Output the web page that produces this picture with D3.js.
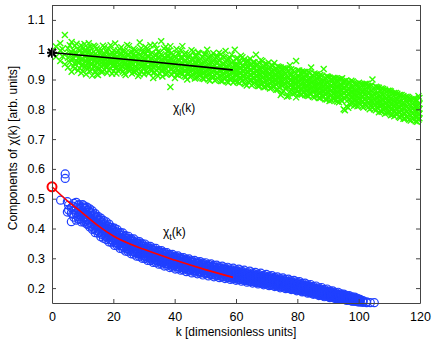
<!DOCTYPE html>
<html>
<head>
<meta charset="utf-8">
<script src="https://cdn.jsdelivr.net/npm/d3@7"></script>
<style>
  body { margin: 0; background: #fff; }
  svg { display: block; font-family: "Liberation Sans", Arial, Helvetica, sans-serif; }
</style>
</head>
<body>
<div id="chart"></div>
<script>
// longitudinal component: each row is [k, y, y, ...]
const chiL = [
  [1.3, 0.976, 1.011], [2.7, 0.962, 0.997, 1.022], [4.2, 1.049, 0.983, 0.951],
  [5.2, 0.94, 0.973, 1.005], [6.4, 0.926, 0.969, 1.026, 0.991], [7.4, 0.953, 0.986, 0.936, 1.012],
  [8.5, 0.93, 0.971, 1.002, 0.958], [9.5, 0.947, 0.989, 0.922, 1.015, 0.966],
  [10.6, 0.96, 0.978, 0.941, 1.019, 0.995], [11.6, 0.934, 0.969, 0.99, 0.955, 1.006],
  [12.5, 0.952, 0.983, 1.01, 0.928, 0.97], [13.6, 0.944, 0.962, 0.993, 0.975, 1.013],
  [14.6, 0.918, 0.958, 0.98, 1.004, 0.94], [15.5, 0.95, 0.972, 0.99, 0.935, 0.963],
  [16.6, 0.927, 0.961, 0.985, 1.013, 0.948], [17.6, 0.944, 0.968, 0.996, 0.955, 0.978],
  [18.5, 0.932, 0.957, 0.981, 1.002, 0.965], [19.6, 0.947, 0.97, 0.99, 0.919, 0.958],
  [20.6, 0.938, 0.962, 0.985, 1.021, 0.951], [21.5, 0.929, 0.955, 0.973, 0.997, 0.966],
  [22.6, 0.945, 0.967, 0.988, 0.936, 1.008], [23.6, 0.921, 0.953, 0.976, 0.961, 0.994],
  [24.5, 0.94, 0.963, 0.982, 1.016, 0.949], [25.6, 0.933, 0.958, 0.971, 0.99, 0.945],
  [26.6, 0.926, 0.951, 0.967, 0.985, 1.003], [27.5, 0.943, 0.962, 0.978, 0.93, 0.995],
  [28.6, 0.918, 0.949, 0.966, 0.983, 1.024], [29.6, 0.937, 0.957, 0.974, 0.992, 0.945],
  [30.5, 0.928, 0.95, 0.968, 0.986, 1.009], [31.6, 0.942, 0.96, 0.977, 0.921, 0.998],
  [32.6, 0.931, 0.953, 0.97, 0.99, 0.947], [33.5, 0.924, 0.946, 0.962, 0.981, 1.017],
  [34.6, 0.938, 0.958, 0.975, 0.993, 0.912], [35.6, 0.929, 0.951, 0.966, 0.985, 1.028],
  [36.5, 0.943, 0.96, 0.973, 0.934, 1.004], [37.6, 0.92, 0.948, 0.964, 0.98, 0.995],
  [38.6, 0.935, 0.955, 0.97, 0.875, 1.012], [39.5, 0.927, 0.945, 0.962, 0.983, 0.952],
  [40.6, 0.916, 0.938, 0.955, 0.973, 1.002], [41.6, 0.928, 0.946, 0.962, 0.985, 0.922],
  [42.5, 0.918, 0.937, 0.953, 0.972, 1.012], [43.6, 0.908, 0.93, 0.947, 0.964, 0.99],
  [44.6, 0.922, 0.94, 0.956, 0.975, 0.935], [45.5, 0.912, 0.931, 0.948, 0.966, 0.998],
  [46.6, 0.925, 0.943, 0.958, 0.903, 0.98], [47.6, 0.908, 0.928, 0.943, 0.961, 0.99],
  [48.5, 0.917, 0.936, 0.952, 0.97, 0.926], [49.6, 0.902, 0.922, 0.94, 0.958, 0.985],
  [50.6, 0.914, 0.932, 0.948, 0.966, 1.0], [51.5, 0.896, 0.92, 0.938, 0.955, 0.978],
  [52.6, 0.908, 0.928, 0.943, 0.961, 0.988], [53.6, 0.9, 0.921, 0.938, 0.956, 0.974],
  [54.5, 0.912, 0.93, 0.946, 0.964, 0.99], [55.6, 0.895, 0.917, 0.934, 0.952, 0.977],
  [56.6, 0.905, 0.924, 0.94, 0.958, 0.996], [57.5, 0.89, 0.914, 0.931, 0.948, 0.97],
  [58.6, 0.902, 0.921, 0.937, 0.955, 0.983], [59.6, 0.896, 0.916, 0.933, 0.95, 1.0],
  [60.5, 0.892, 0.915, 0.932, 0.95, 0.972], [61.6, 0.905, 0.922, 0.938, 0.955, 0.98],
  [62.6, 0.888, 0.91, 0.927, 0.944, 0.966], [63.5, 0.88, 0.906, 0.925, 0.943, 0.962],
  [64.6, 0.898, 0.915, 0.931, 0.948, 0.97], [65.6, 0.885, 0.905, 0.922, 0.94, 0.958],
  [66.5, 0.893, 0.912, 0.928, 0.946, 0.983], [67.6, 0.878, 0.9, 0.917, 0.934, 0.955],
  [68.6, 0.886, 0.905, 0.921, 0.938, 0.962], [69.5, 0.875, 0.896, 0.914, 0.932, 0.952],
  [70.6, 0.88, 0.9, 0.917, 0.934, 0.957], [71.6, 0.872, 0.893, 0.91, 0.928, 0.948],
  [72.5, 0.877, 0.897, 0.913, 0.93, 0.955], [73.6, 0.866, 0.888, 0.905, 0.923, 0.944],
  [74.6, 0.848, 0.884, 0.902, 0.92, 0.94], [75.5, 0.862, 0.882, 0.9, 0.917, 0.938],
  [76.6, 0.843, 0.878, 0.896, 0.913, 0.935], [77.6, 0.86, 0.88, 0.897, 0.915, 0.948],
  [78.5, 0.852, 0.874, 0.892, 0.909, 0.93], [79.6, 0.84, 0.87, 0.888, 0.906, 0.962],
  [80.6, 0.855, 0.875, 0.892, 0.91, 0.93], [81.5, 0.85, 0.87, 0.888, 0.906, 0.927],
  [82.6, 0.848, 0.868, 0.886, 0.903, 0.925], [83.6, 0.845, 0.866, 0.884, 0.902, 0.924],
  [84.5, 0.852, 0.87, 0.887, 0.903, 0.94], [85.6, 0.84, 0.862, 0.88, 0.898, 0.92],
  [86.6, 0.845, 0.865, 0.882, 0.9, 0.918], [87.5, 0.838, 0.858, 0.876, 0.894, 0.915],
  [88.6, 0.842, 0.86, 0.877, 0.895, 0.935], [89.6, 0.833, 0.853, 0.871, 0.889, 0.91],
  [90.5, 0.828, 0.85, 0.868, 0.886, 0.907], [91.6, 0.835, 0.852, 0.869, 0.886, 0.905],
  [92.5, 0.83, 0.849, 0.866, 0.883, 0.903], [93.6, 0.824, 0.845, 0.862, 0.879, 0.9],
  [94.6, 0.828, 0.846, 0.863, 0.88, 0.904], [95.5, 0.797, 0.835, 0.855, 0.873, 0.894],
  [96.6, 0.805, 0.832, 0.852, 0.869, 0.89], [97.6, 0.82, 0.838, 0.855, 0.872, 0.896],
  [98.5, 0.812, 0.832, 0.85, 0.868, 0.888], [99.6, 0.81, 0.83, 0.848, 0.866, 0.886],
  [100.6, 0.814, 0.832, 0.849, 0.866, 0.885], [101.5, 0.806, 0.826, 0.844, 0.862, 0.883],
  [102.6, 0.81, 0.828, 0.845, 0.862, 0.886], [103.6, 0.8, 0.82, 0.838, 0.856, 0.878],
  [104.5, 0.805, 0.823, 0.84, 0.857, 0.9], [105.6, 0.797, 0.816, 0.834, 0.852, 0.876],
  [106.6, 0.79, 0.812, 0.83, 0.848, 0.872], [107.5, 0.792, 0.813, 0.831, 0.849, 0.87],
  [108.6, 0.785, 0.806, 0.824, 0.842, 0.866], [109.6, 0.79, 0.808, 0.825, 0.842, 0.862],
  [110.5, 0.78, 0.8, 0.818, 0.836, 0.86], [111.6, 0.777, 0.797, 0.815, 0.833, 0.855],
  [112.6, 0.783, 0.8, 0.816, 0.833, 0.852], [113.5, 0.772, 0.79, 0.808, 0.826, 0.848],
  [114.6, 0.768, 0.787, 0.805, 0.823, 0.845], [115.6, 0.775, 0.792, 0.808, 0.824, 0.842],
  [116.5, 0.765, 0.783, 0.8, 0.817, 0.838], [117.6, 0.768, 0.785, 0.801, 0.817, 0.835],
  [118.6, 0.76, 0.778, 0.795, 0.812, 0.832], [119.5, 0.765, 0.782, 0.798, 0.813, 0.845]
];

// more of the same cloud, read between the rows above
const chiL2 = [
  [3.4, 0.978, 1.002], [5.8, 0.958, 0.99, 1.015], [7.0, 0.97, 0.944, 0.998], [8.0, 0.962, 0.985, 1.02],
  [9.0, 0.938, 0.975, 0.958, 0.999], [10.1, 0.95, 0.968, 0.987, 0.928, 1.004],
  [11.1, 0.945, 0.962, 0.98, 0.999, 0.918], [12.0, 0.94, 0.96, 0.977, 0.995, 1.022],
  [13.1, 0.934, 0.953, 0.971, 0.987, 0.913], [14.1, 0.948, 0.966, 0.986, 0.927, 1.01],
  [15.0, 0.936, 0.955, 0.977, 0.995, 0.915], [16.1, 0.944, 0.966, 0.974, 0.998, 0.925],
  [17.1, 0.933, 0.95, 0.962, 0.986, 1.008], [18.0, 0.942, 0.96, 0.975, 0.991, 0.922],
  [19.1, 0.937, 0.954, 0.968, 0.984, 1.015], [20.1, 0.928, 0.946, 0.965, 0.979, 0.997],
  [21.0, 0.94, 0.958, 0.976, 0.992, 0.92], [22.1, 0.933, 0.95, 0.97, 0.985, 1.002],
  [23.1, 0.926, 0.944, 0.962, 0.98, 0.996], [24.0, 0.936, 0.954, 0.971, 0.99, 0.915],
  [25.1, 0.929, 0.947, 0.965, 0.983, 1.012], [26.1, 0.938, 0.956, 0.974, 0.992, 0.92],
  [27.0, 0.925, 0.944, 0.96, 0.978, 0.998], [28.1, 0.934, 0.952, 0.969, 0.988, 0.912],
  [29.1, 0.927, 0.945, 0.962, 0.98, 1.005], [30.0, 0.936, 0.953, 0.97, 0.99, 0.918],
  [31.1, 0.925, 0.943, 0.96, 0.978, 0.996], [32.1, 0.934, 0.951, 0.968, 0.986, 1.015],
  [33.0, 0.922, 0.94, 0.957, 0.975, 0.905], [34.1, 0.931, 0.948, 0.965, 0.983, 1.003],
  [35.1, 0.92, 0.938, 0.955, 0.972, 0.99], [36.0, 0.93, 0.947, 0.963, 0.98, 0.91],
  [37.1, 0.918, 0.936, 0.953, 0.971, 1.01], [38.1, 0.927, 0.944, 0.961, 0.978, 0.995],
  [39.0, 0.916, 0.934, 0.951, 0.968, 0.99], [40.1, 0.925, 0.942, 0.959, 0.976, 0.905],
  [41.1, 0.914, 0.932, 0.948, 0.966, 0.988], [42.0, 0.922, 0.939, 0.956, 0.973, 0.998],
  [43.1, 0.912, 0.929, 0.945, 0.962, 0.985], [44.1, 0.92, 0.936, 0.953, 0.97, 0.9],
  [45.0, 0.909, 0.926, 0.943, 0.96, 0.982], [46.1, 0.917, 0.934, 0.95, 0.967, 0.993],
  [47.1, 0.906, 0.923, 0.94, 0.957, 0.978], [48.0, 0.914, 0.931, 0.947, 0.964, 0.988],
  [49.1, 0.903, 0.92, 0.937, 0.954, 0.975], [50.1, 0.911, 0.928, 0.944, 0.961, 0.985],
  [51.0, 0.9, 0.917, 0.934, 0.951, 0.972], [52.1, 0.908, 0.925, 0.941, 0.958, 0.98],
  [53.1, 0.897, 0.914, 0.931, 0.948, 0.97], [54.0, 0.905, 0.922, 0.938, 0.955, 0.978],
  [55.1, 0.895, 0.912, 0.929, 0.946, 0.985], [56.1, 0.903, 0.92, 0.936, 0.953, 0.975],
  [57.0, 0.893, 0.91, 0.927, 0.944, 0.966], [58.1, 0.9, 0.917, 0.933, 0.95, 0.972],
  [59.1, 0.89, 0.907, 0.924, 0.941, 0.962], [60.0, 0.898, 0.915, 0.931, 0.948, 0.97],
  [61.1, 0.888, 0.905, 0.922, 0.939, 0.96], [62.1, 0.896, 0.912, 0.928, 0.945, 0.975],
  [63.0, 0.885, 0.902, 0.919, 0.936, 0.957], [64.1, 0.892, 0.908, 0.924, 0.941, 0.962],
  [65.1, 0.881, 0.898, 0.915, 0.932, 0.953], [66.0, 0.889, 0.905, 0.921, 0.938, 0.958],
  [67.1, 0.878, 0.895, 0.912, 0.929, 0.95], [68.1, 0.885, 0.901, 0.917, 0.934, 0.965],
  [69.0, 0.874, 0.891, 0.908, 0.925, 0.946], [70.1, 0.881, 0.897, 0.913, 0.93, 0.951],
  [71.1, 0.87, 0.887, 0.904, 0.921, 0.942], [72.0, 0.877, 0.893, 0.909, 0.926, 0.946],
  [73.1, 0.866, 0.883, 0.9, 0.917, 0.938], [74.1, 0.873, 0.889, 0.905, 0.922, 0.942],
  [75.0, 0.855, 0.879, 0.896, 0.913, 0.934], [76.1, 0.869, 0.885, 0.901, 0.918, 0.938],
  [77.1, 0.845, 0.875, 0.892, 0.909, 0.93], [78.0, 0.865, 0.881, 0.897, 0.914, 0.934],
  [79.1, 0.854, 0.871, 0.888, 0.905, 0.926], [80.1, 0.86, 0.876, 0.892, 0.909, 0.93],
  [81.0, 0.85, 0.867, 0.884, 0.901, 0.922], [82.1, 0.856, 0.872, 0.888, 0.905, 0.925],
  [83.1, 0.846, 0.863, 0.88, 0.897, 0.918], [84.0, 0.852, 0.868, 0.884, 0.901, 0.921],
  [85.1, 0.842, 0.859, 0.876, 0.893, 0.914], [86.1, 0.848, 0.864, 0.88, 0.897, 0.917],
  [87.0, 0.838, 0.855, 0.872, 0.889, 0.91], [88.1, 0.844, 0.86, 0.876, 0.893, 0.913],
  [89.1, 0.834, 0.851, 0.868, 0.885, 0.906], [90.0, 0.84, 0.856, 0.872, 0.889, 0.909],
  [91.1, 0.83, 0.847, 0.864, 0.881, 0.902], [92.1, 0.836, 0.852, 0.868, 0.885, 0.905],
  [93.0, 0.826, 0.843, 0.86, 0.877, 0.898], [94.1, 0.832, 0.848, 0.864, 0.881, 0.901],
  [95.1, 0.8, 0.839, 0.856, 0.873, 0.894], [96.0, 0.81, 0.844, 0.86, 0.877, 0.897],
  [97.1, 0.818, 0.835, 0.852, 0.869, 0.89], [98.1, 0.824, 0.84, 0.856, 0.873, 0.893],
  [99.0, 0.814, 0.831, 0.848, 0.865, 0.886], [100.1, 0.82, 0.836, 0.852, 0.869, 0.889],
  [101.1, 0.81, 0.827, 0.844, 0.861, 0.882], [102.0, 0.816, 0.832, 0.848, 0.865, 0.885],
  [103.1, 0.806, 0.823, 0.84, 0.857, 0.878], [104.1, 0.812, 0.828, 0.844, 0.861, 0.88],
  [105.0, 0.8, 0.817, 0.834, 0.851, 0.872], [106.1, 0.805, 0.821, 0.837, 0.854, 0.874],
  [107.1, 0.794, 0.811, 0.828, 0.845, 0.866], [108.0, 0.799, 0.815, 0.831, 0.848, 0.868],
  [109.1, 0.788, 0.805, 0.822, 0.839, 0.86], [110.1, 0.793, 0.809, 0.825, 0.842, 0.862],
  [111.0, 0.782, 0.799, 0.816, 0.833, 0.854], [112.1, 0.786, 0.802, 0.818, 0.835, 0.855],
  [113.1, 0.775, 0.792, 0.809, 0.826, 0.847], [114.0, 0.779, 0.795, 0.811, 0.828, 0.848],
  [115.1, 0.768, 0.785, 0.802, 0.819, 0.84], [116.1, 0.772, 0.788, 0.804, 0.821, 0.841],
  [117.0, 0.762, 0.779, 0.796, 0.813, 0.834], [118.1, 0.765, 0.781, 0.797, 0.814, 0.835],
  [119.1, 0.758, 0.775, 0.792, 0.809, 0.83], [119.8, 0.77, 0.786, 0.802, 0.818, 0.838]
];

// transverse component: each row is [k, y, y, ...]
const chiT = [
  [2.8, 0.495], [4.3, 0.583, 0.568], [5.4, 0.462, 0.478], [6.3, 0.423, 0.452, 0.47],
  [7.1, 0.438, 0.462, 0.484], [7.9, 0.428, 0.45, 0.47, 0.488], [8.8, 0.43, 0.446, 0.463, 0.48],
  [9.6, 0.422, 0.44, 0.455, 0.472],
  [10.5, 0.421, 0.437, 0.452, 0.468, 0.476], [11.4, 0.414, 0.43, 0.447, 0.46, 0.472],
  [12.3, 0.405, 0.419, 0.437, 0.455, 0.466], [13.2, 0.397, 0.414, 0.428, 0.442, 0.459],
  [14.1, 0.386, 0.404, 0.421, 0.436, 0.45], [15.0, 0.384, 0.398, 0.409, 0.427, 0.441],
  [15.9, 0.372, 0.391, 0.406, 0.42, 0.435], [16.8, 0.367, 0.384, 0.398, 0.413, 0.427],
  [17.7, 0.363, 0.374, 0.393, 0.406, 0.422], [18.6, 0.355, 0.372, 0.386, 0.397, 0.415],
  [19.5, 0.352, 0.362, 0.379, 0.394, 0.404], [20.4, 0.343, 0.36, 0.371, 0.388, 0.401],
  [21.3, 0.342, 0.351, 0.368, 0.379, 0.396], [22.2, 0.333, 0.35, 0.361, 0.377, 0.387],
  [23.1, 0.331, 0.341, 0.358, 0.368, 0.385], [24.0, 0.324, 0.34, 0.35, 0.366, 0.376],
  [24.9, 0.322, 0.332, 0.348, 0.358, 0.374], [25.8, 0.315, 0.331, 0.341, 0.357, 0.366],
  [26.7, 0.314, 0.324, 0.34, 0.35, 0.365], [27.6, 0.307, 0.323, 0.333, 0.349, 0.358],
  [28.5, 0.306, 0.316, 0.332, 0.341, 0.356], [29.4, 0.3, 0.315, 0.325, 0.34, 0.349],
  [30.3, 0.299, 0.308, 0.324, 0.333, 0.348], [31.2, 0.293, 0.308, 0.317, 0.332, 0.341],
  [32.1, 0.292, 0.301, 0.316, 0.325, 0.34], [33.0, 0.286, 0.301, 0.31, 0.325, 0.334],
  [33.9, 0.286, 0.294, 0.309, 0.318, 0.333], [34.8, 0.28, 0.295, 0.303, 0.318, 0.326],
  [35.7, 0.28, 0.288, 0.303, 0.311, 0.326], [36.6, 0.274, 0.289, 0.297, 0.311, 0.32],
  [37.5, 0.275, 0.283, 0.297, 0.305, 0.319], [38.4, 0.269, 0.284, 0.291, 0.305, 0.313],
  [39.3, 0.27, 0.278, 0.292, 0.299, 0.313], [40.2, 0.264, 0.279, 0.286, 0.3, 0.307],
  [41.1, 0.265, 0.273, 0.287, 0.294, 0.308], [42.0, 0.26, 0.274, 0.281, 0.295, 0.302],
  [42.9, 0.261, 0.268, 0.282, 0.289, 0.302], [43.8, 0.255, 0.269, 0.276, 0.29, 0.297],
  [44.7, 0.257, 0.264, 0.278, 0.284, 0.298], [45.6, 0.251, 0.265, 0.271, 0.285, 0.292],
  [46.5, 0.253, 0.26, 0.273, 0.28, 0.293], [47.4, 0.248, 0.261, 0.267, 0.281, 0.288],
  [48.3, 0.25, 0.256, 0.27, 0.276, 0.289], [49.2, 0.244, 0.258, 0.264, 0.277, 0.284],
  [50.1, 0.247, 0.253, 0.266, 0.272, 0.285], [51.0, 0.241, 0.254, 0.26, 0.273, 0.28],
  [51.9, 0.244, 0.25, 0.263, 0.269, 0.281], [52.8, 0.238, 0.251, 0.257, 0.27, 0.276],
  [53.7, 0.241, 0.247, 0.259, 0.265, 0.277], [54.6, 0.235, 0.248, 0.254, 0.266, 0.272],
  [55.5, 0.238, 0.244, 0.256, 0.262, 0.274], [56.4, 0.232, 0.244, 0.25, 0.262, 0.268],
  [57.3, 0.235, 0.241, 0.253, 0.259, 0.27], [58.2, 0.229, 0.241, 0.247, 0.259, 0.265],
  [59.1, 0.232, 0.238, 0.25, 0.256, 0.267], [60.0, 0.226, 0.238, 0.244, 0.255, 0.261],
  [60.9, 0.229, 0.235, 0.246, 0.252, 0.264], [61.8, 0.223, 0.234, 0.24, 0.252, 0.258],
  [62.7, 0.226, 0.232, 0.243, 0.249, 0.26], [63.6, 0.22, 0.231, 0.237, 0.248, 0.254],
  [64.5, 0.223, 0.228, 0.24, 0.245, 0.257], [65.4, 0.217, 0.228, 0.234, 0.245, 0.251],
  [66.3, 0.22, 0.225, 0.236, 0.242, 0.253], [67.2, 0.214, 0.225, 0.23, 0.241, 0.247],
  [68.1, 0.217, 0.222, 0.233, 0.238, 0.25], [69.0, 0.211, 0.221, 0.227, 0.238, 0.243],
  [69.9, 0.214, 0.219, 0.229, 0.235, 0.246], [70.8, 0.208, 0.218, 0.224, 0.234, 0.24],
  [71.7, 0.21, 0.216, 0.226, 0.231, 0.242], [72.6, 0.205, 0.215, 0.22, 0.231, 0.236],
  [73.5, 0.207, 0.212, 0.222, 0.228, 0.238], [74.4, 0.201, 0.211, 0.217, 0.227, 0.232],
  [75.3, 0.204, 0.209, 0.219, 0.224, 0.234], [76.2, 0.198, 0.208, 0.213, 0.223, 0.229],
  [77.1, 0.2, 0.205, 0.215, 0.22, 0.23], [78.0, 0.195, 0.204, 0.21, 0.22, 0.225],
  [78.9, 0.197, 0.202, 0.211, 0.216, 0.226], [79.8, 0.191, 0.2, 0.206, 0.215, 0.221],
  [80.7, 0.193, 0.198, 0.207, 0.212, 0.222], [81.6, 0.187, 0.196, 0.202, 0.211, 0.216],
  [82.5, 0.189, 0.194, 0.203, 0.208, 0.217], [83.4, 0.183, 0.192, 0.197, 0.206, 0.211],
  [84.3, 0.185, 0.19, 0.198, 0.203, 0.212], [85.2, 0.179, 0.187, 0.192, 0.201, 0.206],
  [86.1, 0.181, 0.185, 0.194, 0.198, 0.207], [87.0, 0.175, 0.183, 0.188, 0.196, 0.201],
  [87.9, 0.177, 0.181, 0.189, 0.193, 0.202], [88.8, 0.171, 0.179, 0.183, 0.191, 0.196],
  [89.7, 0.173, 0.177, 0.185, 0.189, 0.197], [90.6, 0.168, 0.175, 0.179, 0.187, 0.191],
  [91.5, 0.17, 0.173, 0.18, 0.184, 0.191], [92.4, 0.165, 0.171, 0.175, 0.182, 0.186],
  [93.3, 0.166, 0.169, 0.176, 0.179, 0.186], [94.2, 0.162, 0.167, 0.171, 0.177, 0.181],
  [95.1, 0.163, 0.166, 0.172, 0.175, 0.18], [96.0, 0.159, 0.163, 0.167, 0.172, 0.176],
  [96.9, 0.16, 0.163, 0.168, 0.171, 0.175], [97.8, 0.156, 0.16, 0.163, 0.167, 0.171],
  [98.7, 0.157, 0.159, 0.164, 0.166, 0.17], [99.6, 0.154, 0.157, 0.16, 0.163, 0.166],
  [100.5, 0.153, 0.156, 0.16, 0.162], [101.4, 0.152, 0.155, 0.158],
  [102.6, 0.151, 0.154], [103.8, 0.151], [105.1, 0.151]
];

const chiT2 = [
  [5.0, 0.455, 0.49], [6.8, 0.448, 0.475], [8.4, 0.44, 0.458, 0.477], [9.2, 0.432, 0.452, 0.468],
  [10.0, 0.428, 0.444, 0.46, 0.48], [10.95, 0.425, 0.44, 0.455, 0.468], [11.85, 0.415, 0.43, 0.445, 0.462],
  [12.75, 0.408, 0.424, 0.44, 0.452], [13.65, 0.4, 0.416, 0.43, 0.446], [14.55, 0.393, 0.408, 0.423, 0.438],
  [15.45, 0.387, 0.401, 0.415, 0.43], [16.35, 0.38, 0.394, 0.408, 0.422], [17.25, 0.374, 0.388, 0.401, 0.416],
  [18.15, 0.368, 0.381, 0.395, 0.409], [19.05, 0.362, 0.375, 0.388, 0.402], [19.95, 0.356, 0.369, 0.382, 0.396],
  [20.85, 0.351, 0.364, 0.377, 0.39], [21.75, 0.346, 0.358, 0.371, 0.384], [22.65, 0.341, 0.353, 0.366, 0.379],
  [23.55, 0.336, 0.348, 0.361, 0.373], [24.45, 0.331, 0.343, 0.356, 0.368], [25.35, 0.327, 0.339, 0.351, 0.363],
  [26.25, 0.323, 0.335, 0.347, 0.359], [27.15, 0.319, 0.331, 0.343, 0.354], [28.05, 0.315, 0.327, 0.338, 0.35],
  [28.95, 0.311, 0.323, 0.334, 0.346], [29.85, 0.307, 0.319, 0.33, 0.342], [30.75, 0.304, 0.315, 0.326, 0.338],
  [31.65, 0.3, 0.311, 0.323, 0.334], [32.55, 0.297, 0.308, 0.319, 0.33], [33.45, 0.294, 0.305, 0.316, 0.327],
  [34.35, 0.291, 0.302, 0.312, 0.323], [35.25, 0.288, 0.299, 0.309, 0.32], [36.15, 0.285, 0.296, 0.306, 0.317],
  [37.05, 0.282, 0.293, 0.303, 0.314], [37.95, 0.28, 0.29, 0.3, 0.311], [38.85, 0.277, 0.287, 0.297, 0.308],
  [39.75, 0.275, 0.285, 0.295, 0.305], [40.65, 0.272, 0.282, 0.292, 0.302], [41.55, 0.27, 0.28, 0.29, 0.3],
  [42.45, 0.268, 0.277, 0.287, 0.297], [43.35, 0.265, 0.275, 0.285, 0.294], [44.25, 0.263, 0.273, 0.282, 0.292],
  [45.15, 0.261, 0.27, 0.28, 0.289], [46.05, 0.259, 0.268, 0.277, 0.287], [46.95, 0.257, 0.266, 0.275, 0.284],
  [47.85, 0.255, 0.264, 0.273, 0.282], [48.75, 0.253, 0.262, 0.271, 0.28], [49.65, 0.251, 0.26, 0.269, 0.278],
  [50.55, 0.249, 0.258, 0.267, 0.276], [51.45, 0.247, 0.256, 0.265, 0.274], [52.35, 0.245, 0.254, 0.263, 0.272],
  [53.25, 0.244, 0.252, 0.261, 0.27], [54.15, 0.242, 0.25, 0.259, 0.268], [55.05, 0.24, 0.249, 0.257, 0.266],
  [55.95, 0.238, 0.247, 0.255, 0.264], [56.85, 0.237, 0.245, 0.253, 0.262], [57.75, 0.235, 0.243, 0.252, 0.26],
  [58.65, 0.233, 0.242, 0.25, 0.258], [59.55, 0.232, 0.24, 0.248, 0.256], [60.45, 0.23, 0.238, 0.246, 0.255],
  [61.35, 0.229, 0.237, 0.245, 0.253], [62.25, 0.227, 0.235, 0.243, 0.251], [63.15, 0.226, 0.233, 0.241, 0.249],
  [64.05, 0.224, 0.232, 0.24, 0.248], [64.95, 0.222, 0.23, 0.238, 0.246], [65.85, 0.221, 0.229, 0.236, 0.244],
  [66.75, 0.219, 0.227, 0.235, 0.242], [67.65, 0.218, 0.225, 0.233, 0.241], [68.55, 0.216, 0.224, 0.231, 0.239],
  [69.45, 0.215, 0.222, 0.23, 0.237], [70.35, 0.213, 0.22, 0.228, 0.235], [71.25, 0.211, 0.219, 0.226, 0.234],
  [72.15, 0.21, 0.217, 0.224, 0.232], [73.05, 0.208, 0.215, 0.223, 0.23], [73.95, 0.206, 0.213, 0.221, 0.228],
  [74.85, 0.205, 0.212, 0.219, 0.226], [75.75, 0.203, 0.21, 0.217, 0.224], [76.65, 0.201, 0.208, 0.215, 0.222],
  [77.55, 0.199, 0.206, 0.213, 0.22], [78.45, 0.197, 0.204, 0.211, 0.218], [79.35, 0.195, 0.202, 0.209, 0.216],
  [80.25, 0.193, 0.2, 0.207, 0.214], [81.15, 0.191, 0.198, 0.205, 0.211], [82.05, 0.189, 0.196, 0.202, 0.209],
  [82.95, 0.187, 0.193, 0.2, 0.206], [83.85, 0.185, 0.191, 0.197, 0.204], [84.75, 0.183, 0.189, 0.195, 0.201],
  [85.65, 0.181, 0.187, 0.193, 0.199], [86.55, 0.179, 0.185, 0.19, 0.196], [87.45, 0.177, 0.183, 0.188, 0.194],
  [88.35, 0.175, 0.18, 0.186, 0.191], [89.25, 0.173, 0.178, 0.183, 0.189], [90.15, 0.171, 0.176, 0.181, 0.186],
  [91.05, 0.169, 0.174, 0.179, 0.184], [91.95, 0.167, 0.172, 0.177, 0.181], [92.85, 0.166, 0.17, 0.174, 0.179],
  [93.75, 0.164, 0.168, 0.172, 0.176], [94.65, 0.162, 0.166, 0.17, 0.174], [95.55, 0.161, 0.164, 0.168, 0.172],
  [96.45, 0.159, 0.162, 0.166, 0.169], [97.35, 0.158, 0.161, 0.164, 0.167], [98.25, 0.156, 0.159, 0.162, 0.165],
  [99.15, 0.155, 0.158, 0.161], [100.05, 0.154, 0.157]
];

// fitted curves
const fitLK = [0, 30, 59];
const fitLY = [0.99, 0.962, 0.932];
const fitTK = [0, 5, 10, 15, 20, 30, 40, 50, 59];
const fitTY = [0.54, 0.493, 0.452, 0.41, 0.375, 0.33, 0.294, 0.262, 0.236];

const xTicks = [0, 20, 40, 60, 80, 100, 120];
const yTicks = [0.2, 0.3, 0.4, 0.5, 0.6, 0.7, 0.8, 0.9, 1, 1.1];

const width = 436, height = 343;
const margin = { top: 5, right: 16, bottom: 40, left: 52 };

const svg = d3.select("#chart").append("svg")
  .attr("width", width)
  .attr("height", height);

const x = d3.scaleLinear().domain([0, 120]).range([margin.left, width - margin.right]);
const y = d3.scaleLinear().domain([0.15, 1.15]).range([height - margin.bottom, margin.top]);

const flat = rows => rows.flatMap(r => r.slice(1).map(v => [r[0], v]));

// green crosses
const s = 3;
svg.append("g")
  .selectAll("path")
  .data(flat(chiL.concat(chiL2)))
  .join("path")
  .attr("d", d => {
    const cx = x(d[0]), cy = y(d[1]);
    return `M${cx - s},${cy - s}L${cx + s},${cy + s}M${cx - s},${cy + s}L${cx + s},${cy - s}`;
  })
  .attr("stroke", "#33ff00")
  .attr("stroke-width", 1.4)
  .attr("fill", "none");

// blue circles
svg.append("g")
  .selectAll("circle")
  .data(flat(chiT.concat(chiT2)))
  .join("circle")
  .attr("cx", d => x(d[0]))
  .attr("cy", d => y(d[1]))
  .attr("r", 4)
  .attr("fill", "none")
  .attr("stroke", "#2040ff")
  .attr("stroke-width", 1.2);

const line = d3.line().x(d => x(d[0])).y(d => y(d[1])).curve(d3.curveMonotoneX);

svg.append("path")
  .datum(fitLK.map((k, i) => [k, fitLY[i]]))
  .attr("d", line)
  .attr("fill", "none")
  .attr("stroke", "#000")
  .attr("stroke-width", 1.6);

svg.append("path")
  .datum(fitTK.map((k, i) => [k, fitTY[i]]))
  .attr("d", line)
  .attr("fill", "none")
  .attr("stroke", "#ff0000")
  .attr("stroke-width", 1.6);

// start markers
const bx = x(fitLK[0]), by = y(fitLY[0]);
svg.append("path")
  .attr("d", `M${bx - 4},${by - 4}L${bx + 4},${by + 4}M${bx - 4},${by + 4}L${bx + 4},${by - 4}M${bx - 5},${by}L${bx + 5},${by}M${bx},${by - 5}L${bx},${by + 5}`)
  .attr("stroke", "#000")
  .attr("stroke-width", 2);

svg.append("circle")
  .attr("cx", x(fitTK[0]))
  .attr("cy", y(fitTY[0]))
  .attr("r", 4.5)
  .attr("fill", "none")
  .attr("stroke", "#ff0000")
  .attr("stroke-width", 2);

// axes box with inward ticks
const axisColor = "#444";
const x0 = x.range()[0], x1 = x.range()[1], y0 = y.range()[0], y1 = y.range()[1];

svg.append("g").attr("transform", `translate(0,${y0})`)
  .call(d3.axisBottom(x).tickValues(xTicks).tickSizeInner(-4).tickSizeOuter(0).tickPadding(9));
svg.append("g").attr("transform", `translate(${x0},0)`)
  .call(d3.axisLeft(y).tickValues(yTicks).tickSizeInner(-4).tickSizeOuter(0).tickPadding(7)
    .tickFormat(d => d3.format("")(+d.toFixed(1))));
svg.append("g").attr("transform", `translate(0,${y1})`)
  .call(d3.axisTop(x).tickValues(xTicks).tickSizeInner(-4).tickSizeOuter(0).tickFormat(""));
svg.append("g").attr("transform", `translate(${x1},0)`)
  .call(d3.axisRight(y).tickValues(yTicks).tickSizeInner(-4).tickSizeOuter(0).tickFormat(""));

svg.selectAll(".domain, .tick line").attr("stroke", axisColor);
svg.selectAll(".tick text").attr("fill", "#000").style("font-size", "12.5px")
  .style("font-family", "'Liberation Sans', Arial, sans-serif");

// axis labels
svg.append("text")
  .attr("x", (x0 + x1) / 2)
  .attr("y", 336)
  .attr("text-anchor", "middle")
  .style("font-size", "12px")
  .text("k [dimensionless units]");

svg.append("text")
  .attr("transform", "translate(17,148) rotate(-90)")
  .attr("text-anchor", "middle")
  .style("font-size", "12px")
  .text("Components of χ(k) [arb. units]");

// curve labels
function chiLabel(px, py, sub) {
  const t = svg.append("text").attr("x", px).attr("y", py).style("font-size", "12px");
  t.append("tspan").text("χ");
  t.append("tspan").attr("dy", 4).style("font-size", "9px").text(sub);
  t.append("tspan").attr("dy", -4).text("(k)");
}
chiLabel(173, 112, "l");
chiLabel(163, 236, "t");
</script>
</body>
</html>
